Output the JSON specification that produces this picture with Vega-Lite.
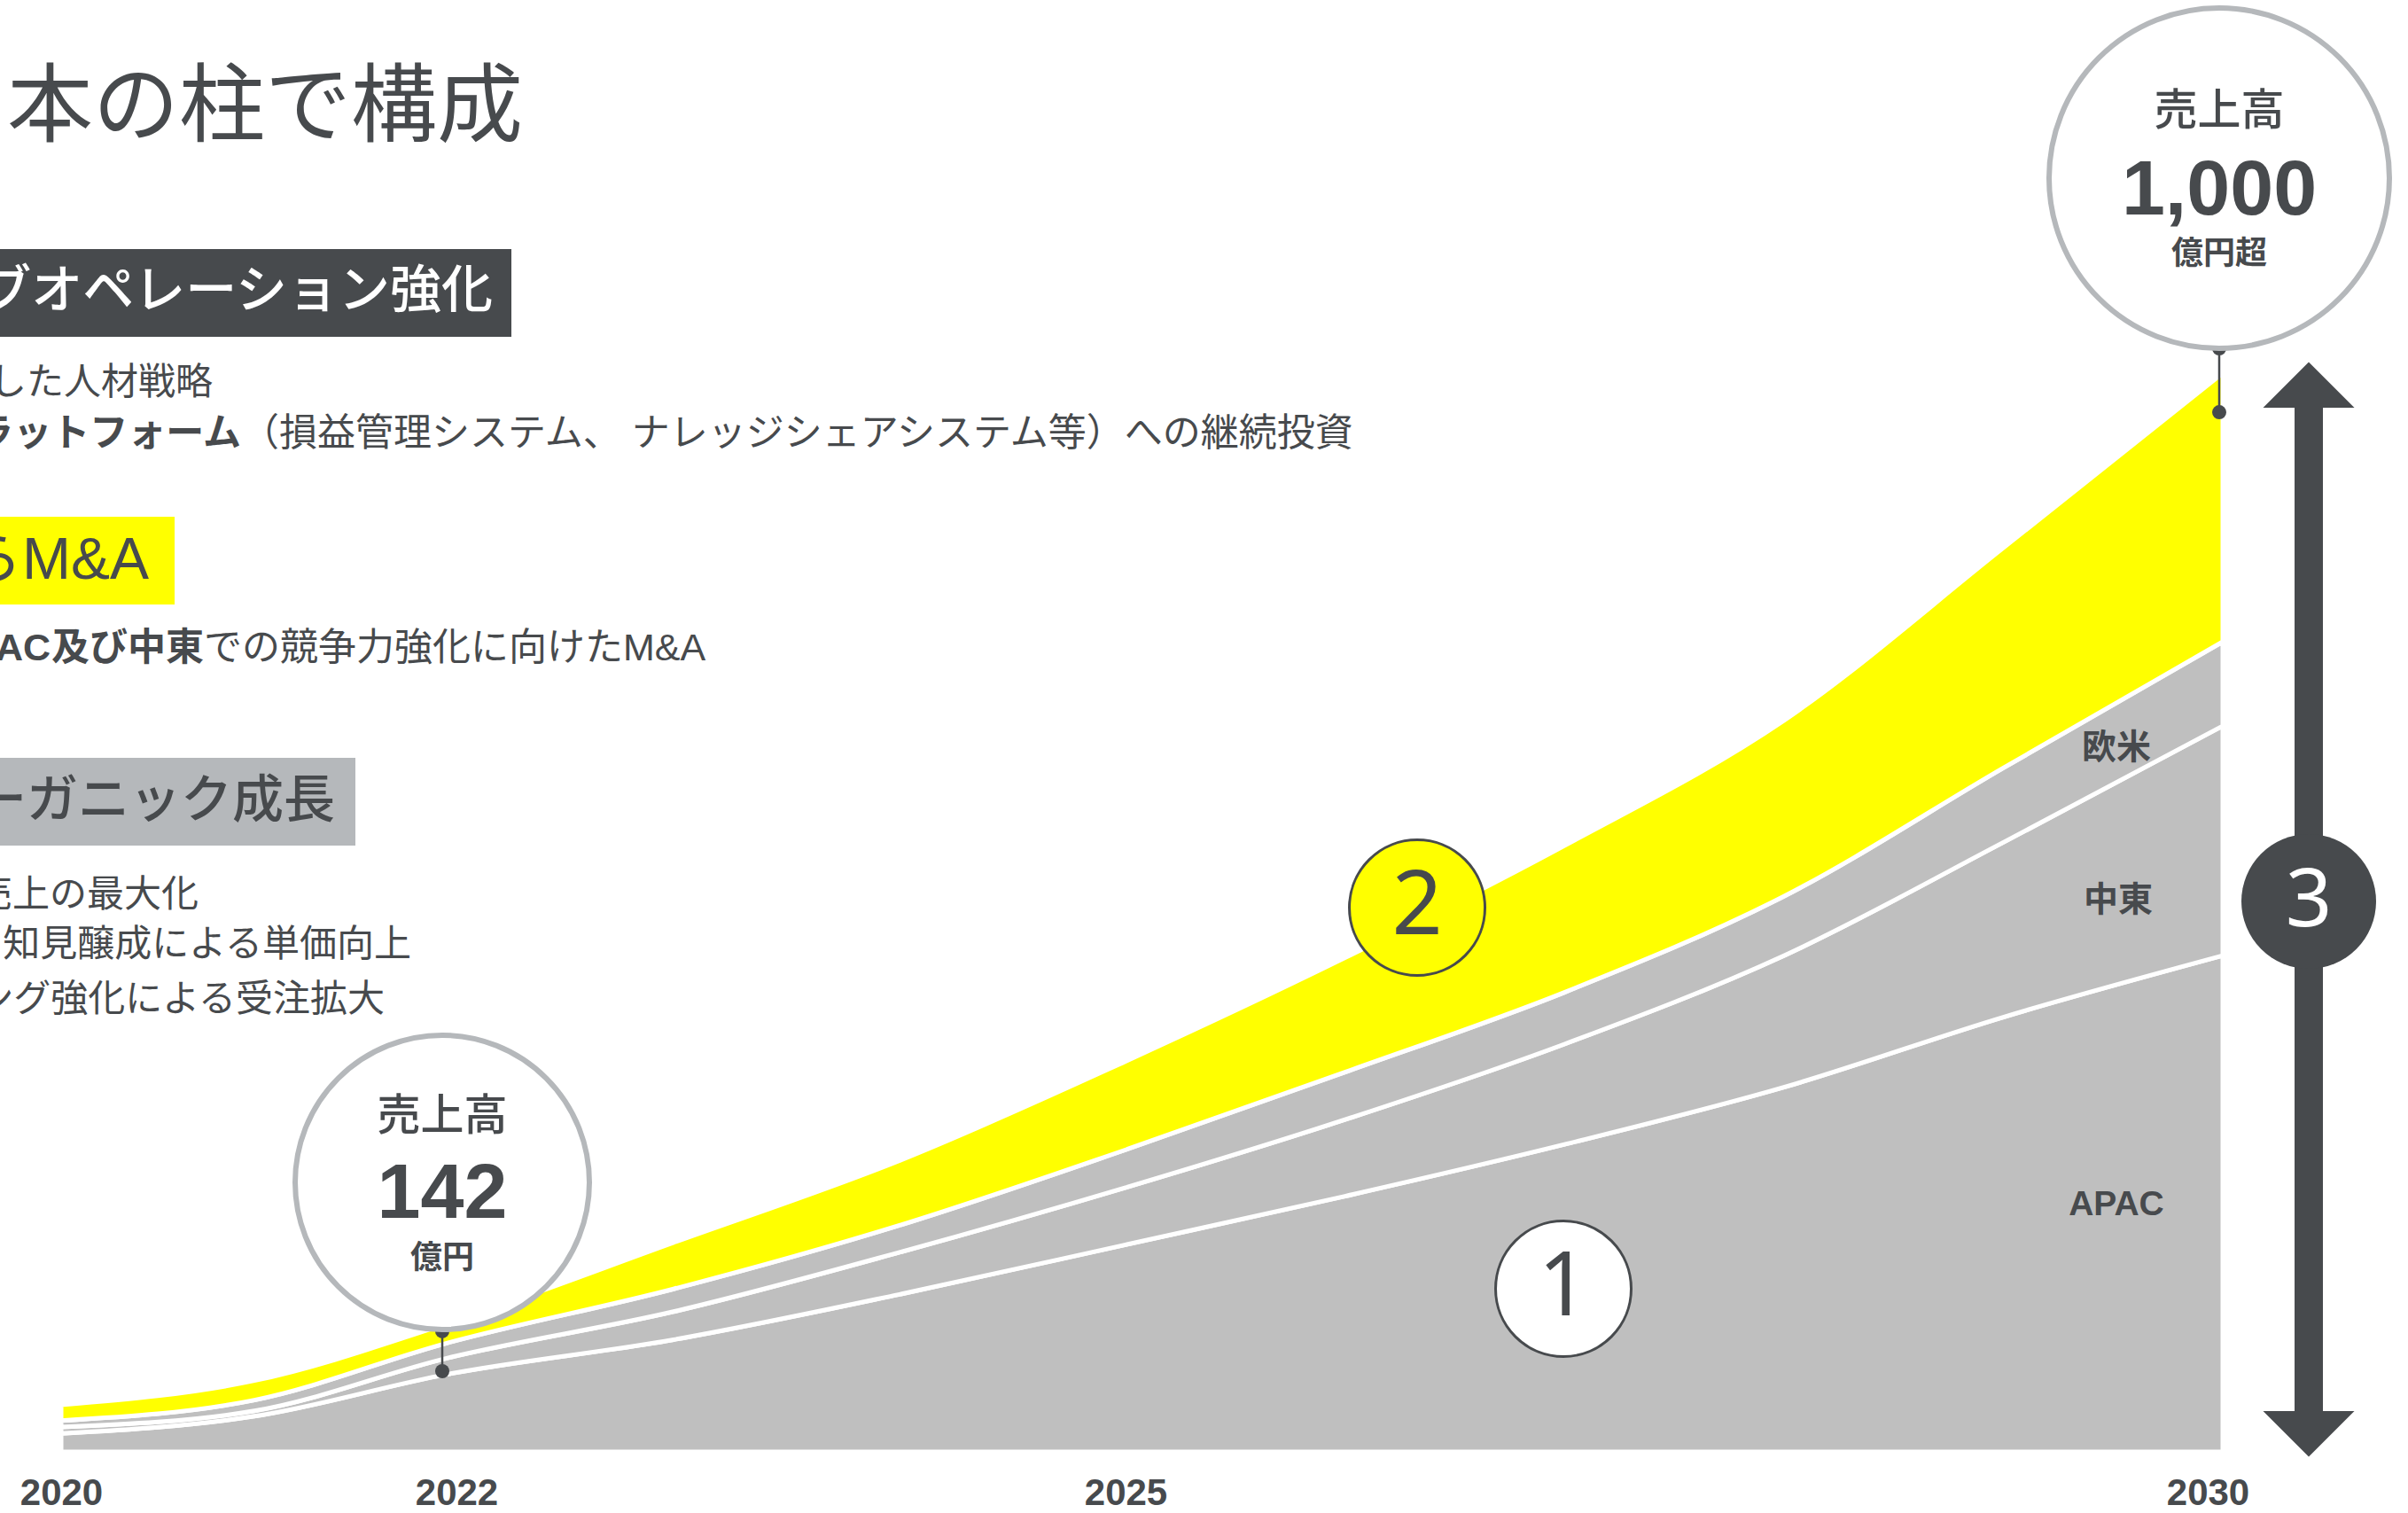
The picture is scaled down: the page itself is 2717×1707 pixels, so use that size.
{
  "$schema": "https://vega.github.io/schema/vega-lite/v6.json",
  "width": 2717,
  "height": 1707,
  "autosize": {"type": "none"},
  "padding": 0,
  "background": "#ffffff",
  "config": {"view": {"stroke": null}},
  "datasets": {
    "series": [
      {"year": 2020, "segment": "APAC", "rank": 1, "value": 17},
      {"year": 2020, "segment": "中東", "rank": 2, "value": 6},
      {"year": 2020, "segment": "欧米", "rank": 3, "value": 6},
      {"year": 2020, "segment": "M&A", "rank": 4, "value": 14.5},
      {"year": 2021, "segment": "APAC", "rank": 1, "value": 33},
      {"year": 2021, "segment": "中東", "rank": 2, "value": 5},
      {"year": 2021, "segment": "欧米", "rank": 3, "value": 10},
      {"year": 2021, "segment": "M&A", "rank": 4, "value": 18},
      {"year": 2022, "segment": "APAC", "rank": 1, "value": 72},
      {"year": 2022, "segment": "中東", "rank": 2, "value": 15},
      {"year": 2022, "segment": "欧米", "rank": 3, "value": 14},
      {"year": 2022, "segment": "M&A", "rank": 4, "value": 18},
      {"year": 2023, "segment": "APAC", "rank": 1, "value": 104},
      {"year": 2023, "segment": "中東", "rank": 2, "value": 26},
      {"year": 2023, "segment": "欧米", "rank": 3, "value": 21},
      {"year": 2023, "segment": "M&A", "rank": 4, "value": 43},
      {"year": 2024, "segment": "APAC", "rank": 1, "value": 146},
      {"year": 2024, "segment": "中東", "rank": 2, "value": 39},
      {"year": 2024, "segment": "欧米", "rank": 3, "value": 25},
      {"year": 2024, "segment": "M&A", "rank": 4, "value": 60},
      {"year": 2025, "segment": "APAC", "rank": 1, "value": 192},
      {"year": 2025, "segment": "中東", "rank": 2, "value": 53},
      {"year": 2025, "segment": "欧米", "rank": 3, "value": 35},
      {"year": 2025, "segment": "M&A", "rank": 4, "value": 82},
      {"year": 2026, "segment": "APAC", "rank": 1, "value": 237},
      {"year": 2026, "segment": "中東", "rank": 2, "value": 71},
      {"year": 2026, "segment": "欧米", "rank": 3, "value": 44},
      {"year": 2026, "segment": "M&A", "rank": 4, "value": 106},
      {"year": 2027, "segment": "APAC", "rank": 1, "value": 285},
      {"year": 2027, "segment": "中東", "rank": 2, "value": 93},
      {"year": 2027, "segment": "欧米", "rank": 3, "value": 48},
      {"year": 2027, "segment": "M&A", "rank": 4, "value": 136},
      {"year": 2028, "segment": "APAC", "rank": 1, "value": 338},
      {"year": 2028, "segment": "中東", "rank": 2, "value": 122},
      {"year": 2028, "segment": "欧米", "rank": 3, "value": 55},
      {"year": 2028, "segment": "M&A", "rank": 4, "value": 163},
      {"year": 2029, "segment": "APAC", "rank": 1, "value": 403},
      {"year": 2029, "segment": "中東", "rank": 2, "value": 162},
      {"year": 2029, "segment": "欧米", "rank": 3, "value": 69},
      {"year": 2029, "segment": "M&A", "rank": 4, "value": 204},
      {"year": 2030, "segment": "APAC", "rank": 1, "value": 460},
      {"year": 2030, "segment": "中東", "rank": 2, "value": 213},
      {"year": 2030, "segment": "欧米", "rank": 3, "value": 78},
      {"year": 2030, "segment": "M&A", "rank": 4, "value": 249}
    ]
  },
  "encoding": {
    "x": {
      "field": "year",
      "type": "quantitative",
      "scale": {"type": "linear", "domain": [2020, 2022, 2025, 2030], "range": [69, 505, 1270, 2508], "nice": false, "zero": false},
      "axis": {
        "values": [2020, 2022, 2025, 2030],
        "format": "d",
        "title": null,
        "grid": false,
        "domain": false,
        "ticks": false,
        "tickSize": 0,
        "labelPadding": 0,
        "offset": -23,
        "labelBaseline": "middle",
        "labelFont": "Liberation Sans",
        "labelFontWeight": "bold",
        "labelFontSize": 42,
        "labelColor": "#474a4d",
        "labelFlush": false,
        "labelOverlap": false,
        "labelOffset": {"condition": [{"test": "datum.value == 2030", "value": -17}, {"test": "datum.value == 2022", "value": 10}], "value": 0}
      }
    },
    "y": {
      "field": "value",
      "type": "quantitative",
      "scale": {"domain": [0, 1000], "range": [1638, 421], "nice": false, "zero": false},
      "axis": null
    }
  },
  "layer": [
    {
      "data": {"name": "series"},
      "mark": {"type": "area", "interpolate": "monotone", "stroke": "#ffffff", "strokeWidth": 5, "opacity": 1},
      "encoding": {
        "color": {
          "field": "segment",
          "type": "nominal",
          "scale": {"domain": ["APAC", "中東", "欧米", "M&A"], "range": ["#bfbfbf", "#bfbfbf", "#bfbfbf", "#ffff00"]},
          "legend": null
        },
        "order": {"field": "rank", "type": "quantitative", "sort": "ascending"}
      }
    },
    {
      "data": {"values": [{"year": 2019.7202, "value": 1244.9, "text": "本の柱で構成"}]},
      "mark": {"type": "text", "align": "left", "baseline": "middle", "font": "Noto Sans CJK JP", "fontSize": 97, "fontWeight": 400, "color": "#474a4d"},
      "encoding": {"text": {"field": "text"}}
    },
    {
      "data": {"values": [{"year": 2019.6376, "year2": 2022.2824, "value": 1115.0, "value2": 1033.7}]},
      "mark": {"type": "rect", "color": "#474a4d"},
      "encoding": {"x2": {"field": "year2"}, "y2": {"field": "value2"}}
    },
    {
      "data": {"values": [{"year": 2019.6376, "year2": 2020.5872, "value": 866.9, "value2": 785.5}]},
      "mark": {"type": "rect", "color": "#ffff00"},
      "encoding": {"x2": {"field": "year2"}, "y2": {"field": "value2"}}
    },
    {
      "data": {"values": [{"year": 2019.6376, "year2": 2021.5229, "value": 643.4, "value2": 562.0}]},
      "mark": {"type": "rect", "color": "#b5b8bb"},
      "encoding": {"x2": {"field": "year2"}, "y2": {"field": "value2"}}
    },
    {
      "data": {"values": [{"year": 2022.2, "value": 1074.8, "text": "ブオペレーション強化"}]},
      "mark": {"type": "text", "align": "right", "baseline": "middle", "font": "Noto Sans CJK JP", "fontSize": 58, "fontWeight": 500, "color": "#ffffff"},
      "encoding": {"text": {"field": "text"}}
    },
    {
      "data": {"values": [{"year": 2020.4541, "value": 826.2, "text": "らM&A"}]},
      "mark": {"type": "text", "align": "right", "baseline": "middle", "font": "Liberation Sans, Noto Sans CJK JP", "fontSize": 66, "fontWeight": 400, "color": "#474a4d"},
      "encoding": {"text": {"field": "text"}}
    },
    {
      "data": {"values": [{"year": 2021.4174, "value": 602.7, "text": "オーガニック成長"}]},
      "mark": {"type": "text", "align": "right", "baseline": "middle", "font": "Noto Sans CJK JP", "fontSize": 58, "fontWeight": 500, "color": "#474a4d"},
      "encoding": {"text": {"field": "text"}}
    },
    {
      "data": {"values": [
        {"year": 2020.7844, "value": 990.6, "text": "した人材戦略"},
        {"year": 2020.7110, "value": 516.0, "text": "売上の最大化"},
        {"year": 2021.8119, "value": 470.0, "text": "知見醸成による単価向上"},
        {"year": 2021.6743, "value": 419.1, "text": "ング強化による受注拡大"}
      ]},
      "mark": {"type": "text", "align": "right", "baseline": "middle", "font": "Noto Sans CJK JP", "fontSize": 42, "fontWeight": 400, "color": "#474a4d"},
      "encoding": {"text": {"field": "text"}}
    },
    {
      "data": {"values": [
        {"year": 2020.9312, "value": 943.3, "text": "プラットフォーム"},
        {"year": 2020.7385, "value": 744.5, "text": "及び中東"}
      ]},
      "mark": {"type": "text", "align": "right", "baseline": "middle", "font": "Noto Sans CJK JP", "fontSize": 43, "fontWeight": "bold", "color": "#474a4d"},
      "encoding": {"text": {"field": "text"}}
    },
    {
      "data": {"values": [{"year": 2019.945, "value": 744.5, "text": "APAC"}]},
      "mark": {"type": "text", "align": "right", "baseline": "middle", "font": "Liberation Sans", "fontSize": 43, "fontWeight": "bold", "color": "#474a4d"},
      "encoding": {"text": {"field": "text"}}
    },
    {
      "data": {"values": [
        {"year": 2020.9312, "value": 943.3, "text": "（損益管理システム、 ナレッジシェアシステム等）への継続投資"},
        {"year": 2020.7385, "value": 744.5, "text": "での競争力強化に向けたM&A"}
      ]},
      "mark": {"type": "text", "align": "left", "baseline": "middle", "font": "Liberation Sans, Noto Sans CJK JP", "fontSize": 43, "fontWeight": 400, "color": "#474a4d"},
      "encoding": {"text": {"field": "text"}}
    },
    {
      "data": {"values": [
        {"year": 2021.9725, "value": 111.8, "value2": 74.8},
        {"year": 2029.9838, "value": 1023.0, "value2": 963.8}
      ]},
      "mark": {"type": "rule", "color": "#474a4d", "strokeWidth": 2.5},
      "encoding": {"y2": {"field": "value2"}}
    },
    {
      "data": {"values": [
        {"year": 2021.9725, "value": 111.8},
        {"year": 2021.9725, "value": 74.8},
        {"year": 2029.9838, "value": 1023.0},
        {"year": 2029.9838, "value": 963.8}
      ]},
      "mark": {"type": "point", "shape": "circle", "filled": true, "color": "#474a4d", "size": 256, "opacity": 1}
    },
    {
      "data": {"values": [{"year": 2021.9725, "value": 249.8}]},
      "mark": {"type": "point", "shape": "circle", "filled": true, "fill": "#ffffff", "stroke": "#b5b8bb", "strokeWidth": 6, "size": 110224, "opacity": 1}
    },
    {
      "data": {"values": [{"year": 2029.9838, "value": 1180.8}]},
      "mark": {"type": "point", "shape": "circle", "filled": true, "fill": "#ffffff", "stroke": "#b5b8bb", "strokeWidth": 6, "size": 147456, "opacity": 1}
    },
    {
      "data": {"values": [
        {"year": 2021.9725, "value": 311.0, "text": "売上高"},
        {"year": 2029.9838, "value": 1242.5, "text": "売上高"}
      ]},
      "mark": {"type": "text", "align": "center", "baseline": "middle", "font": "Noto Sans CJK JP", "fontSize": 49, "fontWeight": 500, "color": "#474a4d"},
      "encoding": {"text": {"field": "text"}}
    },
    {
      "data": {"values": [
        {"year": 2021.9725, "value": 238.5, "text": "142"},
        {"year": 2029.9838, "value": 1168.5, "text": "1,000"}
      ]},
      "mark": {"type": "text", "align": "center", "baseline": "middle", "font": "Liberation Sans", "fontSize": 88, "fontWeight": "bold", "color": "#474a4d"},
      "encoding": {"text": {"field": "text"}}
    },
    {
      "data": {"values": [
        {"year": 2021.9725, "value": 179.0, "text": "億円"},
        {"year": 2029.9838, "value": 1110.0, "text": "億円超"}
      ]},
      "mark": {"type": "text", "align": "center", "baseline": "middle", "font": "Noto Sans CJK JP", "fontSize": 36, "fontWeight": "bold", "color": "#474a4d"},
      "encoding": {"text": {"field": "text"}}
    },
    {
      "data": {"values": [{"year": 2030.3918, "value": 972.1, "value2": 35.3}]},
      "mark": {"type": "rule", "color": "#474a4d", "strokeWidth": 32},
      "encoding": {"y2": {"field": "value2"}}
    },
    {
      "data": {"values": [{"year": 2030.3918, "value": 968.0}]},
      "mark": {"type": "point", "shape": "M-1,0L1,0L0,-1Z", "filled": true, "color": "#474a4d", "size": 10609, "opacity": 1}
    },
    {
      "data": {"values": [{"year": 2030.3918, "value": 37.8}]},
      "mark": {"type": "point", "shape": "M-1,0L1,0L0,1Z", "filled": true, "color": "#474a4d", "size": 10609, "opacity": 1}
    },
    {
      "data": {"values": [{"year": 2030.3918, "value": 510.3}]},
      "mark": {"type": "point", "shape": "circle", "filled": true, "color": "#474a4d", "size": 23104, "opacity": 1}
    },
    {
      "data": {"values": [{"year": 2030.3918, "value": 510.3, "text": "3"}]},
      "mark": {"type": "text", "align": "center", "baseline": "middle", "font": "Noto Sans", "fontSize": 92, "fontWeight": 400, "color": "#ffffff"},
      "encoding": {"text": {"field": "text"}}
    },
    {
      "data": {"values": [{"year": 2026.3288, "value": 504.5}]},
      "mark": {"type": "point", "shape": "circle", "filled": true, "fill": "#ffff00", "stroke": "#474a4d", "strokeWidth": 3, "size": 23409, "opacity": 1}
    },
    {
      "data": {"values": [{"year": 2026.9952, "value": 151.2}]},
      "mark": {"type": "point", "shape": "circle", "filled": true, "fill": "#ffffff", "stroke": "#474a4d", "strokeWidth": 3, "size": 23409, "opacity": 1}
    },
    {
      "data": {"values": [
        {"year": 2026.3288, "value": 504.5, "text": "2"},
        {"year": 2026.9952, "value": 151.2, "text": "1"}
      ]},
      "mark": {"type": "text", "align": "center", "baseline": "middle", "font": "Noto Sans", "fontSize": 100, "fontWeight": 400, "color": "#474a4d"},
      "encoding": {"text": {"field": "text"}}
    },
    {
      "data": {"values": [
        {"year": 2029.5153, "value": 652.4, "text": "欧米"},
        {"year": 2029.5234, "value": 511.1, "text": "中東"},
        {"year": 2029.5153, "value": 229.3, "text": "APAC"}
      ]},
      "mark": {"type": "text", "align": "center", "baseline": "middle", "font": "Liberation Sans, Noto Sans CJK JP", "fontSize": 39, "fontWeight": "bold", "color": "#474a4d"},
      "encoding": {"text": {"field": "text"}}
    }
  ]
}
